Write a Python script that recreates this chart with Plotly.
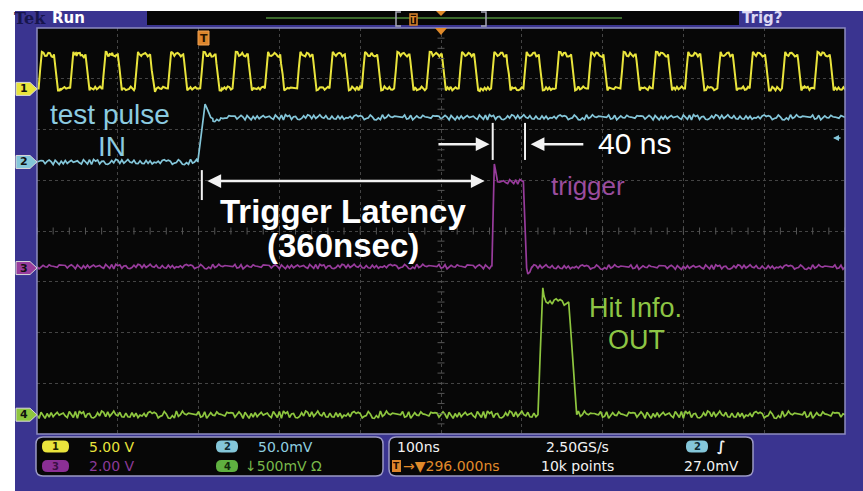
import numpy as np
import plotly.graph_objects as go

W, H = 863, 491

# ------------------------------------------------------------------ data
TIME_RANGE_NS = [-204.0, 796.0]     # 100 ns/div, trigger 296 ns left of centre
NS_PER_DIV = 100
DIV_RANGE = [-4.0, 4.0]

CH_SCALE_V = {1: 5.0, 2: 0.05, 3: 2.0, 4: 0.5}          # V/div
CH_OFFSET_DIV = {1: 2.80, 2: 1.36, 3: -0.73, 4: -3.62}  # ground marker position
CH_COLOR = {1: "#e9e43c", 2: "#84c6d9", 3: "#983c9c", 4: "#8ec63f"}

# ch1: 25 MHz clock, rising edges (ns) and the shape of one cycle
CH1_RISE_NS = [-202, -163, -123, -83, -42, -2, 38, 78, 118, 158, 198, 238, 278,
               318, 358, 398, 438, 478, 518, 558, 598, 638, 678, 718, 758]
CH1_CYCLE_DT_NS = [0, 4, 8, 12, 16, 19, 24]
CH1_CYCLE_V = [0.05, 3.65, 3.25, 3.55, 3.20, 3.40, -0.15]
CH1_LOW_V = 0.05

# ch2: test pulse IN (V)
CH2_T_NS = [-204, -5, 4, 8, 14, 22, 32, 796]
CH2_V = [0.0, 0.0, 0.057, 0.050, 0.040, 0.041, 0.044, 0.044]

# ch3: trigger (V)
CH3_T_NS = [-204, 359, 362, 366, 398, 402, 404, 409, 796]
CH3_V = [0.06, 0.06, 4.10, 3.40, 3.40, 0.0, -0.22, 0.04, 0.04]

# ch4: hit info OUT (V)
CH4_T_NS = [-204, 416, 422, 426, 454, 464, 796]
CH4_V = [0.0, 0.0, 1.25, 1.11, 1.11, 0.0, 0.0]

# hand-drawn ripple used as the trace noise
RIPPLE = [0.3, -0.5, 0.8, -0.2, -0.9, 0.4, 0.1, -0.6, 0.7, 0.2, -0.3, 0.9, -0.7, 0.0,
          0.5, -0.4, -0.8, 0.6, 0.3, -0.1, 0.8, -0.5, 0.2, -0.9, 0.4, 0.7, -0.3, -0.6,
          0.1, 0.9, -0.2, 0.5, -0.7, 0.3, -0.4, 0.6, 0.0, -0.8, 0.4, 0.2, -0.5, 0.7,
          -0.1, -0.3, 0.9, -0.6, 0.3, 0.5, -0.9, 0.1, 0.6, -0.4, 0.2, -0.7, 0.8, -0.2,
          0.4, -0.5, 0.0, 0.7, -0.8, 0.3, 0.5, -0.3, -0.6, 0.9, 0.1, -0.4, 0.6, -0.1,
          -0.7, 0.4, 0.2, -0.9, 0.5, 0.3, -0.2, 0.8, -0.5, 0.0, 0.6, -0.3, -0.8, 0.7,
          0.1, -0.6, 0.4, -0.1, 0.9, -0.4, 0.2, -0.7, 0.5, 0.3, -0.9, 0.6, -0.2, 0.1,
          0.8, -0.5, 0.3]
CH_RIPPLE_V = {1: 0.22, 2: 0.0028, 3: 0.10, 4: 0.04}
CH_RIPPLE_PHASE = {1: 3, 2: 17, 3: 41, 4: 66}

TRIGGER_LATENCY_NS = [0, 360]
TRIGGER_WIDTH_NS = [360, 400]

# ------------------------------------------------------------------ helpers
def to_div(ch, volts):
    return CH_OFFSET_DIV[ch] + np.asarray(volts, float) / CH_SCALE_V[ch]


def build(ch, t_pts, v_pts, step=2.5):
    t_pts = np.asarray(t_pts, float)
    v_pts = np.asarray(v_pts, float)
    grid = np.arange(TIME_RANGE_NS[0], TIME_RANGE_NS[1] + step, step)
    t_all = np.union1d(grid, t_pts)
    v = np.interp(t_all, t_pts, v_pts)
    isv = np.isin(t_all, t_pts)
    n = len(RIPPLE)
    ph = CH_RIPPLE_PHASE[ch]
    r = np.array([RIPPLE[(i * 7 + ph) % n] for i in range(len(t_all))])
    v = v + np.where(isv, 0.0, r * CH_RIPPLE_V[ch])
    return t_all, to_div(ch, v)


def PX(x):
    return x / W


def PY(y):
    return 1 - y / H


def P(x, y):
    return f"{PX(x):.5f},{PY(y):.5f}"


def rect_px(x0, y0, x1, y1, **kw):
    return dict(type="rect", xref="paper", yref="paper",
                x0=PX(x0), x1=PX(x1), y0=PY(y1), y1=PY(y0), **kw)


def rrect_path(x0, y0, x1, y1, r):
    return (f"M{P(x0 + r, y0)} L{P(x1 - r, y0)} Q{P(x1, y0)} {P(x1, y0 + r)} "
            f"L{P(x1, y1 - r)} Q{P(x1, y1)} {P(x1 - r, y1)} L{P(x0 + r, y1)} "
            f"Q{P(x0, y1)} {P(x0, y1 - r)} L{P(x0, y0 + r)} Q{P(x0, y0)} {P(x0 + r, y0)} Z")


def path_shape(path, fill, line="rgba(0,0,0,0)", lw=0, layer="above"):
    return dict(type="path", xref="paper", yref="paper", path=path,
                fillcolor=fill, line=dict(color=line, width=lw), layer=layer)


def txt(x, y, s, color, size, family="Liberation Sans, Arial, sans-serif",
        bold=False, xanchor="center", pad=1):
    return dict(x=PX(x), y=PY(y), xref="paper", yref="paper",
                text=f"<b>{s}</b>" if bold else s, showarrow=False,
                xanchor=xanchor, yanchor="middle", borderpad=pad,
                font=dict(color=color, size=size, family=family))


# ------------------------------------------------------------------ traces
ch1_t = [TIME_RANGE_NS[0]]
ch1_v = [CH1_LOW_V]
for r0 in CH1_RISE_NS:
    for dt, vv in zip(CH1_CYCLE_DT_NS, CH1_CYCLE_V):
        ch1_t.append(r0 + dt)
        ch1_v.append(vv)
    ch1_t.append(r0 + 27)
    ch1_v.append(CH1_LOW_V)
ch1_t.append(TIME_RANGE_NS[1] + 10)
ch1_v.append(CH1_LOW_V)

fig = go.Figure()
for ch, (tt, vv) in {1: (ch1_t, ch1_v), 2: (CH2_T_NS, CH2_V),
                     3: (CH3_T_NS, CH3_V), 4: (CH4_T_NS, CH4_V)}.items():
    x, y = build(ch, tt, vv, step=2.0 if ch == 1 else 2.5)
    fig.add_trace(go.Scatter(x=x, y=y, mode="lines", hoverinfo="skip",
                             line=dict(color=CH_COLOR[ch], width=2.0 if ch == 1 else 1.7),
                             showlegend=False))

# graticule centre tick marks
centre_t = TIME_RANGE_NS[0] + 5 * NS_PER_DIV
ht = np.arange(TIME_RANGE_NS[0], TIME_RANGE_NS[1] + 1, NS_PER_DIV / 5)
vt = np.arange(DIV_RANGE[0], DIV_RANGE[1] + 0.01, 0.2)
fig.add_trace(go.Scatter(x=ht, y=np.zeros_like(ht), mode="markers", hoverinfo="skip",
                         marker=dict(symbol="line-ns", size=5, line=dict(color="#555555", width=1)),
                         showlegend=False))
fig.add_trace(go.Scatter(x=np.full_like(vt, centre_t), y=vt, mode="markers", hoverinfo="skip",
                         marker=dict(symbol="line-ew", size=5, line=dict(color="#555555", width=1)),
                         showlegend=False))

# ------------------------------------------------------------------ frame & decorations
FRAME = "#3a3490"
BOX_LINE = "#9b99c4"
shapes = [
    rect_px(15, 11, W + 2, H + 2, fillcolor=FRAME, line=dict(width=0), layer="below"),
    rect_px(37, 28, 845, 434, fillcolor="#070707", line=dict(width=0), layer="below"),
    rect_px(37, 28, 845, 434, line=dict(color="#8d8cc0", width=1.5), layer="above"),
    # top bar
    rect_px(147, 11, 739, 25, fillcolor="#060606", line=dict(width=0)),
    dict(type="line", xref="paper", yref="paper", x0=PX(266), x1=PX(622), y0=PY(18), y1=PY(18),
         line=dict(color="#3c6a2c", width=2)),
    path_shape(f"M{P(401, 12)} L{P(396, 12)} L{P(396, 26)} L{P(401, 26)}", "rgba(0,0,0,0)", "#a8a8b8", 1.5),
    path_shape(f"M{P(481, 12)} L{P(486, 12)} L{P(486, 26)} L{P(481, 26)}", "rgba(0,0,0,0)", "#a8a8b8", 1.5),
    rect_px(410, 14, 417, 25, fillcolor="#1a0e04", line=dict(color="#d9822b", width=1.5)),
    path_shape(f"M{P(436, 11)} L{P(446, 11)} L{P(441, 16)} Z", "#e08a2a"),
    path_shape(f"M{P(435, 28)} L{P(447, 28)} L{P(441, 35)} Z", "#e08a2a"),
    # trigger point marker
    rect_px(198, 31, 209, 45, fillcolor="#dc852c", line=dict(color="#f0a050", width=1)),
    # status boxes
    path_shape(rrect_path(36, 437, 383, 476, 7), "#070707", BOX_LINE, 1.5),
    path_shape(rrect_path(389, 437, 753, 476, 7), "#070707", BOX_LINE, 1.5),
    rect_px(392, 460, 401, 472, fillcolor="#dc852c", line=dict(width=0)),
]

# trigger latency / width markers in data space
for t in [TRIGGER_LATENCY_NS[0]]:
    shapes.append(dict(type="line", xref="x", yref="y", x0=t, x1=t, y0=1.20, y1=0.61,
                       line=dict(color="#f2f2f2", width=2)))
for t in TRIGGER_WIDTH_NS:
    shapes.append(dict(type="line", xref="x", yref="y", x0=t, x1=t, y0=2.13, y1=1.40,
                       line=dict(color="#f2f2f2", width=2)))

# channel ground markers on the left
for ch in (1, 2, 3, 4):
    yc = 231 - CH_OFFSET_DIV[ch] * 50.75
    shapes.append(path_shape(
        f"M{P(16, yc - 6.5)} L{P(30, yc - 6.5)} L{P(37, yc)} L{P(30, yc + 6.5)} L{P(16, yc + 6.5)} Z",
        CH_COLOR[ch], "#d8d8d8", 1))


def pill(x0, x1, yc, color, h=12):
    r = h / 2
    return path_shape(rrect_path(x0, yc - r, x1, yc + r, r - 0.5), color)


ROW1, ROW2 = 446.5, 466.0
shapes += [pill(42, 69, ROW1, CH_COLOR[1]), pill(42, 69, ROW2, "#8b2f95"),
           pill(216, 238, ROW1, CH_COLOR[2]), pill(216, 238, ROW2, "#5fb040"),
           pill(686, 708, ROW1, CH_COLOR[2])]

SF = "DejaVu Sans, sans-serif"
SZ = 14
annotations = [
    # header
    txt(30, 18, "Tek", "#17154c", 16, "DejaVu Serif, serif", bold=True),
    txt(50, 18, "Run", "#ffffff", 15, SF, bold=True, xanchor="left"),
    txt(740, 18, "Trig?", "#dcd8f4", 15, SF, bold=True, xanchor="left"),
    txt(413.5, 19.5, "T", "#e08a2a", 9, SF, bold=True),
    txt(203.5, 38, "T", "#2a1400", 11, SF, bold=True),
    # channel numbers
    *[txt(23.5, 231 - CH_OFFSET_DIV[c] * 50.75, str(c), "#111111", 11, SF, bold=True)
      for c in (1, 2, 3, 4)],
    # labels on the screen
    txt(110, 114, "test pulse", "#8ccbe0", 28),
    txt(112, 146, "IN", "#8ccbe0", 28),
    txt(343, 211, "Trigger Latency", "#ffffff", 33, bold=True),
    txt(343, 246, "(360nsec)", "#ffffff", 33, bold=True),
    txt(634, 143, "40 ns", "#ffffff", 30),
    txt(588, 186, "trigger", "#9a4d9e", 26),
    txt(635, 308, "Hit Info.", "#8dc544", 27),
    txt(636, 340, "OUT", "#8dc544", 27),
    # status bar
    txt(55.5, ROW1, "1", "#222200", 10, SF, bold=True, pad=0),
    txt(55.5, ROW2, "3", "#3a0f44", 10, SF, bold=True, pad=0),
    txt(227, ROW1, "2", "#0f2a33", 10, SF, bold=True, pad=0),
    txt(227, ROW2, "4", "#10280a", 10, SF, bold=True, pad=0),
    txt(697, ROW1, "2", "#0f2a33", 10, SF, bold=True, pad=0),
    txt(88, ROW1, "5.00 V", "#e9e43c", SZ, SF, xanchor="left", pad=0),
    txt(88, ROW2, "2.00 V", "#8b3a98", SZ, SF, xanchor="left", pad=0),
    txt(257, ROW1, "50.0mV", "#8fcfe0", SZ, SF, xanchor="left", pad=0),
    txt(244, ROW2, "↓500mV Ω", "#79b84a", SZ, SF, xanchor="left", pad=0),
    txt(396, ROW1, "100ns", "#f2f2f2", SZ, SF, xanchor="left", pad=0),
    txt(545, ROW1, "2.50GS/s", "#f2f2f2", SZ, SF, xanchor="left", pad=0),
    txt(716, ROW1, "∫", "#f2f2f2", SZ, SF, bold=True, xanchor="left", pad=0),
    txt(396.5, ROW2, "T", "#1a0a00", 9, SF, bold=True, pad=0),
    txt(402, ROW2, "→▼296.000ns", "#e08a2a", SZ, SF, xanchor="left", pad=0),
    txt(540, ROW2, "10k points", "#f2f2f2", SZ, SF, xanchor="left", pad=0),
    txt(683, ROW2, "27.0mV", "#f2f2f2", SZ, SF, xanchor="left", pad=0),
    # trigger level indicator (right edge)
    dict(x=PX(833), y=PY(138), xref="paper", yref="paper", ax=9, ay=0, text="",
         showarrow=True, arrowhead=2, arrowsize=0.8, arrowwidth=1.5, arrowcolor=CH_COLOR[2]),
]

# latency and width arrows in data space
annotations += [
    dict(x=TRIGGER_LATENCY_NS[1] - 10, y=0.985, ax=TRIGGER_LATENCY_NS[0] + 5, ay=0.985,
         xref="x", yref="y", axref="x", ayref="y", text="", showarrow=True,
         arrowside="end+start", arrowhead=2, startarrowhead=2, arrowsize=1.1,
         startarrowsize=1.1, arrowwidth=2.5, arrowcolor="#f2f2f2"),
    dict(x=TRIGGER_WIDTH_NS[0] - 4, y=1.71, ax=TRIGGER_WIDTH_NS[0] - 69, ay=1.71,
         xref="x", yref="y", axref="x", ayref="y", text="", showarrow=True,
         arrowhead=2, arrowsize=1.1, arrowwidth=2.5, arrowcolor="#f2f2f2"),
    dict(x=TRIGGER_WIDTH_NS[1] + 7, y=1.71, ax=TRIGGER_WIDTH_NS[1] + 74, ay=1.71,
         xref="x", yref="y", axref="x", ayref="y", text="", showarrow=True,
         arrowhead=2, arrowsize=1.1, arrowwidth=2.5, arrowcolor="#f2f2f2"),
]

fig.update_layout(
    width=W, height=H, margin=dict(l=0, r=0, t=0, b=0),
    paper_bgcolor="#ffffff", plot_bgcolor="rgba(0,0,0,0)",
    shapes=shapes, annotations=annotations, showlegend=False,
    xaxis=dict(domain=[PX(37), PX(845)], range=TIME_RANGE_NS, tick0=TIME_RANGE_NS[0],
               dtick=NS_PER_DIV, showgrid=True, gridcolor="#444444", griddash="dot",
               gridwidth=1, zeroline=False, showticklabels=False, ticks="", fixedrange=True),
    yaxis=dict(domain=[PY(434), PY(28)], range=DIV_RANGE, dtick=1, showgrid=True,
               gridcolor="#444444", griddash="dot", gridwidth=1, zeroline=False,
               showticklabels=False, ticks="", fixedrange=True),
)

fig.write_html("out.html")
